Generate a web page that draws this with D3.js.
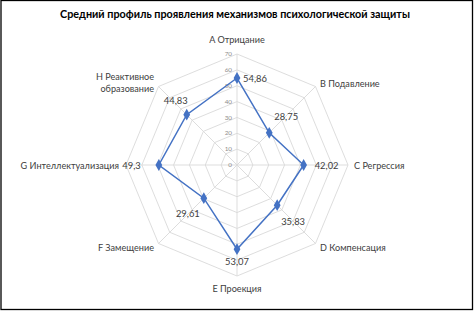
<!DOCTYPE html>
<html><head><meta charset="utf-8">
<script src="https://cdn.jsdelivr.net/npm/d3@7"></script>
<style>html,body{margin:0;padding:0;background:#fff;}svg{display:block;}</style>
</head><body>
<script>
const title = "Средний профиль проявления механизмов психологической защиты";
const categories = ["A Отрицание","B Подавление","C Регрессия","D Компенсация","E Проекция","F Замещение","G Интеллектуализация","H Реактивное образование"];
const values = [54.86, 28.75, 42.02, 35.83, 53.07, 29.61, 49.3, 44.83];
const valueLabels = ["54,86","28,75","42,02","35,83","53,07","29,61","49,3","44,83"];
const tickValues = [0,10,20,30,40,50,60,70];

const W = 474, H = 312, cx = 237, cy = 165, R = 111;
const svg = d3.select("body").append("svg").attr("width", W).attr("height", H);
svg.append("rect").attr("x",1).attr("y",0.5).attr("width",471.5).attr("height",309).attr("fill","#fff").attr("stroke","#000").attr("stroke-width",1.3);

const font = "Lato, 'Open Sans', sans-serif";
svg.append("text").attr("x", 235).attr("y", 18).attr("text-anchor","middle")
  .attr("font-family", font).attr("font-weight","bold").attr("font-size", 10.8).attr("fill","#000").text(title);

const r = d3.scaleLinear().domain([0,70]).range([0,R]);
const n = categories.length;
const ang = d3.scaleLinear().domain([0,n]).range([0, 2*Math.PI]);
const pt = (i, v) => [cx + r(v)*Math.sin(ang(i)), cy - r(v)*Math.cos(ang(i))];

const g = svg.append("g");
tickValues.forEach(t => {
  if (t === 0) return;
  const pts = d3.range(n).map(i => pt(i, t));
  g.append("path").attr("d", d3.line()(pts) + "Z").attr("fill","none").attr("stroke","#d9d9d9").attr("stroke-width",0.9);
});
d3.range(n).forEach(i => {
  const p = pt(i, 70);
  g.append("line").attr("x1",cx).attr("y1",cy).attr("x2",p[0]).attr("y2",p[1]).attr("stroke","#d9d9d9").attr("stroke-width",0.9);
});
tickValues.forEach(t => {
  g.append("text").attr("x", cx-5).attr("y", cy - r(t) + 2.2).attr("text-anchor","end")
    .attr("font-family", font).attr("font-size", 6.3).attr("fill","#8c8c8c").text(t);
});
const pts = values.map((v,i) => pt(i, v));
g.append("path").attr("d", d3.line()(pts) + "Z").attr("fill","none").attr("stroke","#4472c4").attr("stroke-width",1.5);
const diamond = d3.symbol().type(d3.symbolDiamond).size(40);
pts.forEach(p => g.append("path").attr("d", diamond()).attr("transform",`translate(${p[0]},${p[1]})`).attr("fill","#4472c4"));

const vOff = [[6,4,"start"],[5,-13,"start"],[11,4,"start"],[4,20,"start"],[0,16,"middle"],[-4,19,"end"],[-18,4,"end"],[1,-11,"end"]];
pts.forEach((p,i) => {
  g.append("text").attr("x", p[0]+vOff[i][0]).attr("y", p[1]+vOff[i][1]).attr("text-anchor", vOff[i][2])
    .attr("font-family", font).attr("font-size", 9.4).attr("fill","#404040").text(valueLabels[i]);
});

const cPos = [[0,-122,"middle"],[83,-78,"start"],[117,4,"start"],[83,86,"start"],[0,127,"middle"],[-83,86,"end"],[-118,4,"end"],[-83,-85,"end"]];
categories.forEach((c,i) => {
  const t = g.append("text").attr("x", cx+cPos[i][0]).attr("y", cy+cPos[i][1]).attr("text-anchor", cPos[i][2])
    .attr("font-family", font).attr("font-size", 9.1).attr("fill","#404040");
  if (i === 7) {
    t.append("tspan").attr("x", cx+cPos[i][0]).attr("dy",0).text("H Реактивное");
    t.append("tspan").attr("x", cx+cPos[i][0]).attr("dy",12).text("образование");
  } else t.text(c);
});
</script>
</body></html>
